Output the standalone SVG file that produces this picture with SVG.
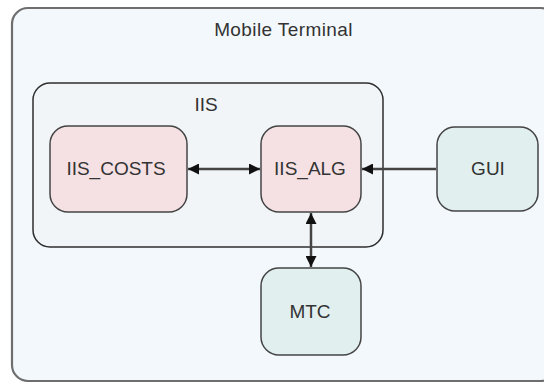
<svg xmlns="http://www.w3.org/2000/svg" width="544" height="383" viewBox="0 0 544 383">
<defs>
<marker id="ah" viewBox="0 0 10 10" refX="10" refY="5" markerWidth="11" markerHeight="11" markerUnits="userSpaceOnUse" orient="auto-start-reverse">
<path d="M0,0 L10,5 L0,10 z" fill="#111"/>
</marker>
</defs>
<style>
text{font-family:"Liberation Sans",Arial,sans-serif;font-size:19px;fill:#333;text-anchor:middle}
.pink{fill:#f5e1e4;stroke:#444;stroke-width:1.5}
.teal{fill:#e2efef;stroke:#444;stroke-width:1.5}
.conn{stroke:#444;stroke-width:2.5;fill:none}
</style>
<rect width="544" height="383" fill="#ffffff"/>
<g id="mobile-terminal">
<rect x="12" y="8" width="545" height="373" rx="16" fill="#f3f8fc" stroke="#6e6e6e" stroke-width="2.2"/>
<text x="283.5" y="36" letter-spacing="0.4">Mobile Terminal</text>
</g>
<g id="iis">
<rect x="33" y="83" width="350" height="164" rx="17" fill="#f1f5f8" stroke="#2e2e2e" stroke-width="1.5"/>
<text x="206" y="111">IIS</text>
</g>
<g id="iis-costs">
<rect class="pink" x="50" y="126" width="137" height="86" rx="18"/>
<text x="116" y="175">IIS_COSTS</text>
</g>
<g id="iis-alg">
<rect class="pink" x="261" y="126" width="100" height="86" rx="18"/>
<text x="310" y="175">IIS_ALG</text>
</g>
<g id="gui">
<rect class="teal" x="437" y="127" width="101" height="84" rx="18"/>
<text x="488" y="175">GUI</text>
</g>
<g id="mtc">
<rect class="teal" x="261" y="268" width="100" height="87" rx="18"/>
<text x="310" y="318">MTC</text>
</g>
<g id="connectors">
<line class="conn" x1="188" y1="169" x2="260" y2="169" marker-start="url(#ah)" marker-end="url(#ah)"/>
<line class="conn" x1="436" y1="169" x2="362" y2="169" marker-end="url(#ah)"/>
<line class="conn" x1="311" y1="213" x2="311" y2="267" marker-start="url(#ah)" marker-end="url(#ah)"/>
</g>
</svg>
